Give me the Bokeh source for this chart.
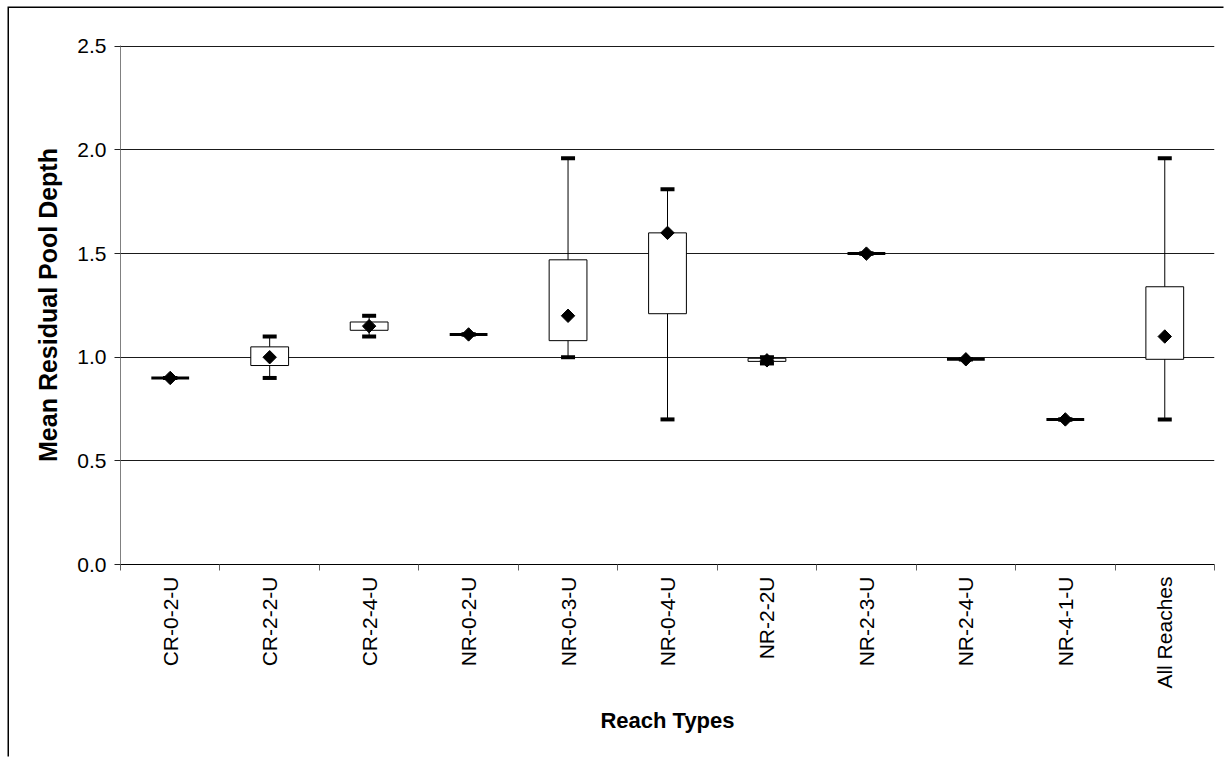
import numpy as np
from bokeh.plotting import figure
from bokeh.models import ColumnDataSource, Range1d, FixedTicker, PrintfTickFormatter
from bokeh.embed import file_html
from bokeh.resources import INLINE

# ---- data ----
categories = ["CR-0-2-U", "CR-2-2-U", "CR-2-4-U", "NR-0-2-U", "NR-0-3-U", "NR-0-4-U",
              "NR-2-2U", "NR-2-3-U", "NR-2-4-U", "NR-4-1-U", "All Reaches"]
whisker_low = [0.90, 0.90, 1.10, 1.11, 1.00, 0.70, 0.97, 1.50, 0.99, 0.70, 0.70]
box_low     = [0.90, 0.96, 1.13, 1.11, 1.08, 1.21, 0.98, 1.50, 0.99, 0.70, 0.99]
box_high    = [0.90, 1.05, 1.17, 1.11, 1.47, 1.60, 0.995, 1.50, 0.99, 0.70, 1.34]
whisker_high = [0.90, 1.10, 1.20, 1.11, 1.96, 1.81, 1.00, 1.50, 0.99, 0.70, 1.96]
mean_values = [0.90, 1.00, 1.15, 1.11, 1.20, 1.60, 0.985, 1.50, 0.99, 0.70, 1.10]
y_ticks = [0.0, 0.5, 1.0, 1.5, 2.0, 2.5]

FONT = "Liberation Sans"

xs = list(range(len(categories)))
box_line = [3 if hi == lo else 1 for lo, hi in zip(box_low, box_high)]
src = ColumnDataSource(dict(x=xs, lo=whisker_low, q1=box_low, q3=box_high,
                            hi=whisker_high, mean=mean_values, bw=box_line))

p = figure(width=1216, height=750,
           x_range=Range1d(-0.5, len(categories) - 0.5), y_range=Range1d(0, 2.504),
           output_backend="svg", toolbar_location=None,
           min_border_left=111, min_border_right=11, min_border_top=37, min_border_bottom=194)
p.margin = (8, 0, 0, 9)
p.styles = {"box-shadow": "-1.5px -1.5px 0px 0px #000000"}
p.outline_line_color = None
p.background_fill_color = "white"
p.border_fill_color = "white"

# grid
p.xgrid.visible = False
p.ygrid.ticker = FixedTicker(ticks=y_ticks)
p.ygrid.grid_line_color = "#1a1a1a"
p.ygrid.grid_line_width = 1

# y axis
p.yaxis.ticker = FixedTicker(ticks=y_ticks)
p.yaxis.formatter = PrintfTickFormatter(format="%.1f")
p.yaxis.axis_line_color = "#808080"
p.yaxis.major_tick_line_color = "#222222"
p.yaxis.major_tick_in = 0
p.yaxis.major_tick_out = 6
p.yaxis.minor_tick_line_color = None
p.yaxis.major_label_standoff = 8
p.yaxis.major_label_text_font = FONT
p.yaxis.major_label_text_font_size = "21px"
p.yaxis.major_label_text_color = "black"
p.yaxis.axis_label = "Mean Residual Pool Depth"
p.yaxis.axis_label_text_font = FONT
p.yaxis.axis_label_text_font_style = "bold"
p.yaxis.axis_label_text_font_size = "25px"
p.yaxis.axis_label_text_color = "black"
p.yaxis.axis_label_standoff = 12

# x axis: labels at category centres, ticks at boundaries
bounds = [i - 0.5 for i in range(len(categories) + 1)]
p.xaxis.ticker = FixedTicker(ticks=xs, minor_ticks=bounds)
p.xaxis.major_label_overrides = {i: c for i, c in zip(xs, categories)}
p.xaxis.major_tick_line_color = None
p.xaxis.major_tick_in = 0
p.xaxis.major_tick_out = 6
p.xaxis.minor_tick_line_color = "#606060"
p.xaxis.minor_tick_in = 0
p.xaxis.minor_tick_out = 6
p.xaxis.axis_line_color = "black"
p.xaxis.major_label_orientation = np.pi / 2
p.xaxis.major_label_standoff = 6
p.xaxis.major_label_text_font = FONT
p.xaxis.major_label_text_font_size = "21px"
p.xaxis.major_label_text_color = "black"
p.xaxis.axis_label = "Reach Types"
p.xaxis.axis_label_text_font = FONT
p.xaxis.axis_label_text_font_style = "bold"
p.xaxis.axis_label_text_font_size = "22px"
p.xaxis.axis_label_text_color = "black"
p.xaxis.axis_label_standoff = 16

# glyphs
p.segment(x0="x", y0="lo", x1="x", y1="hi", source=src, line_color="black", line_width=1)
p.vbar(x="x", width=0.38, bottom="q1", top="q3", source=src,
       fill_color="white", line_color="black", line_width="bw")
p.rect(x="x", y="hi", width=14, height=4, width_units="screen", height_units="screen",
       source=src, fill_color="black", line_color=None)
p.rect(x="x", y="lo", width=14, height=4, width_units="screen", height_units="screen",
       source=src, fill_color="black", line_color=None)
p.scatter(x="x", y="mean", marker="square", size=9.5, angle=np.pi / 4, source=src,
          fill_color="black", line_color="black")

open("out.html", "w").write(file_html(p, INLINE))
